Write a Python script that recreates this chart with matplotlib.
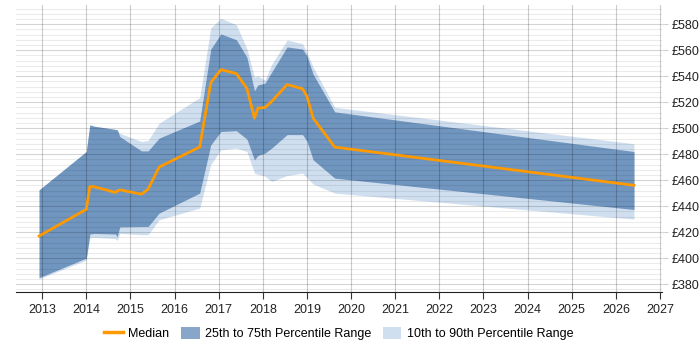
import numpy as np
import matplotlib
matplotlib.use("Agg")
import matplotlib.pyplot as plt
from matplotlib.lines import Line2D
from matplotlib.patches import Patch
from matplotlib.ticker import MultipleLocator, FuncFormatter

plt.rcParams["font.family"] = ["Liberation Sans", "DejaVu Sans"]

# Sample dates as decimal years
years = [2012.93, 2014.00, 2014.08, 2014.17, 2014.66, 2014.70, 2014.76, 2015.25,
         2015.40, 2015.65, 2016.57, 2016.82, 2017.05, 2017.40, 2017.64, 2017.81,
         2017.89, 2018.05, 2018.20, 2018.55, 2018.90, 2019.00, 2019.14, 2019.63,
         2026.41]

median = [417, 437.5, 455, 455, 450.5, 451.5, 452.5, 449.2, 453, 470, 485.5, 535,
          545, 542, 530.5, 507.7, 515.4, 515.9, 520.5, 533.5, 530.3, 524.5, 507.7,
          485.4, 456]
p25 = [385, 400, 418.5, 419, 418.5, 416.5, 424, 424.3, 424.3, 434.6, 450, 487,
       497.4, 498, 491.5, 475.6, 479, 480.8, 484.6, 495, 495, 490, 475.6, 461.5,
       437.4]
p75 = [452.5, 482, 502.5, 501.5, 499, 498.7, 493.5, 482.5, 482.5, 492.3, 505.5,
       560.8, 572.5, 568, 554.5, 528.8, 533.3, 534.6, 543, 562.5, 560.8, 555.5,
       541.5, 512.5, 482]
p10 = [384, 398.5, 415.5, 416, 415, 413.5, 419, 418, 418, 429.5, 438.5, 472,
       483.3, 484.6, 482, 465.4, 464.5, 463, 459, 463.5, 465.4, 462, 457, 450, 430]
p90 = [452.5, 482, 502.5, 501.5, 499, 498.7, 496, 489.7, 490.5, 503.8, 523.5, 577,
       584.6, 579.5, 561, 539, 540, 537, 549, 567.8, 565, 558, 547, 516, 488]

year_ticks = list(range(2013, 2028))

DARK = "#7096c0"
LIGHT = "#d0dfef"
ORANGE = "#ff9900"

fig = plt.figure(figsize=(7, 3.5), dpi=100)
ax = fig.add_axes([0.0224, 0.166, 0.9236, 0.82])

ax.fill_between(years, p10, p90, color=LIGHT, linewidth=0, zorder=1)
ax.fill_between(years, p25, p75, color=DARK, linewidth=0, zorder=1.1)
ax.plot(years, median, color=ORANGE, linewidth=2, zorder=3)

# grid: minor every 4, major every 20, vertical at years
ax.set_ylim(374, 594.8)
ax.set_xlim(2012.4, 2027.05)
ax.yaxis.set_major_locator(MultipleLocator(20))
ax.yaxis.set_minor_locator(MultipleLocator(4))
ax.set_xticks(year_ticks)
ax.grid(True, which="major", axis="y", color="black", alpha=0.17, linewidth=0.8, zorder=2)
ax.grid(True, which="minor", axis="y", color="black", alpha=0.08, linewidth=0.8, zorder=2)
ax.grid(True, which="major", axis="x", color="black", alpha=0.2, linewidth=0.8, zorder=2)
ax.set_axisbelow(False)

ax.yaxis.tick_right()
ax.yaxis.set_major_formatter(FuncFormatter(lambda v, p: f"£{v:.0f}"))
ax.tick_params(axis="y", which="major", length=4, color="#d0d0d0", labelsize=9,
               labelcolor="#222222", pad=3)
ax.tick_params(axis="y", which="minor", length=0)
ax.tick_params(axis="x", length=5, color="#333333", labelsize=9, labelcolor="#222222")

for side in ["left", "right", "top"]:
    ax.spines[side].set_visible(False)
ax.spines["bottom"].set_color("#222222")

handles = [Line2D([0], [0], color=ORANGE, linewidth=2.5),
           Patch(facecolor="#88a6c9", edgecolor="none"),
           Patch(facecolor=LIGHT, edgecolor="none")]
labels = ["Median", "25th to 75th Percentile Range", "10th to 90th Percentile Range"]
fig.legend(handles, labels, loc="center", bbox_to_anchor=(0.484, 0.048), ncol=3,
           frameon=False, fontsize=9, handlelength=1.5, handleheight=1.1,
           handletextpad=0.45, columnspacing=0.9)

fig.savefig("out.png", dpi=100)
